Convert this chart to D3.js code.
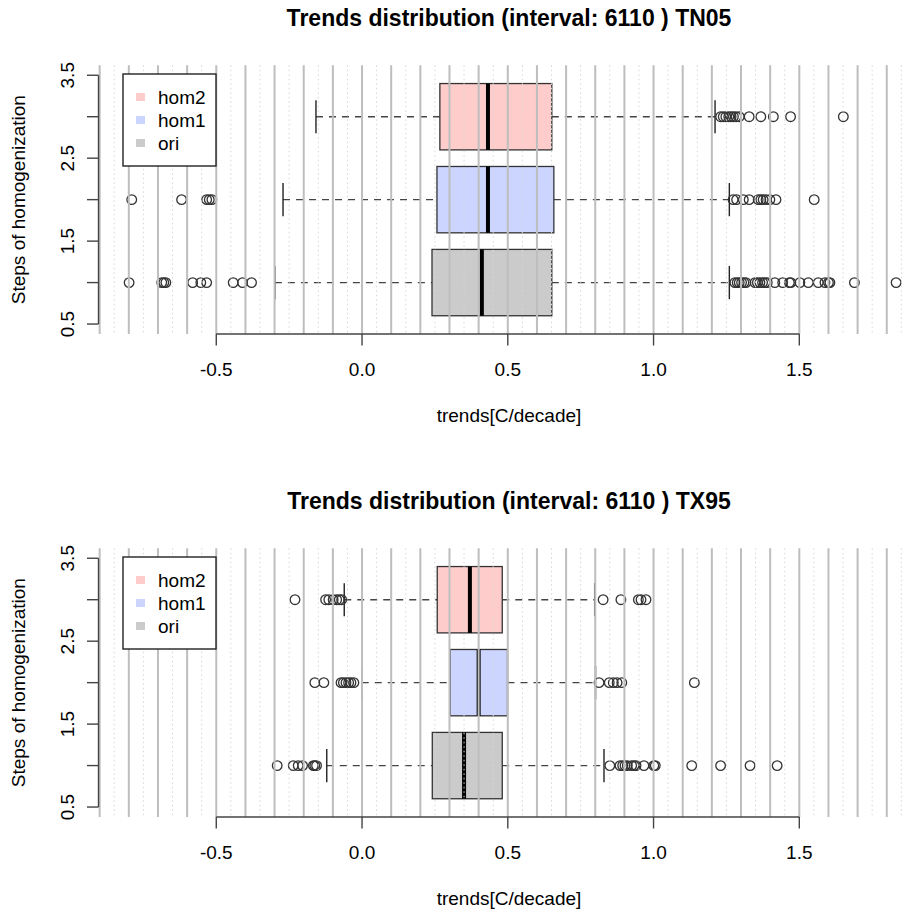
<!DOCTYPE html>
<html><head><meta charset="utf-8">
<script src="https://cdn.jsdelivr.net/npm/d3@7"></script>
<style>body{margin:0;background:#fff}svg{display:block}text{font-family:"Liberation Sans",Arial,Helvetica,sans-serif;fill:#000}</style>
</head><body><svg id="c" width="912" height="912"></svg>
<script>
// ---------------- data ----------------
const categories = ["ori", "hom1", "hom2"];          // y positions 1,2,3
const legendLabels = ["hom2", "hom1", "ori"];
const titles = ["Trends distribution (interval: 6110 ) TN05", "Trends distribution (interval: 6110 ) TX95"];
const xTitle = "trends[C/decade]";
const yTitle = "Steps of homogenization";
const xTickValues = [-0.5, 0, 0.5, 1, 1.5];
const xTickLabels = ["-0.5", "0.0", "0.5", "1.0", "1.5"];
const yTickValues = [0.5, 1, 1.5, 2, 2.5, 3, 3.5];
const yTickLabels = ["0.5", "", "1.5", "", "2.5", "", "3.5"];

// stats: [lower whisker, Q1, median, Q3, upper whisker]
const tn05OriStats  = [-0.299, 0.240, 0.411, 0.651, 1.260];
const tn05Hom1Stats = [-0.271, 0.257, 0.432, 0.658, 1.260];
const tn05Hom2Stats = [-0.158, 0.267, 0.432, 0.651, 1.211];
const tn05OriOut  = [-0.799, -0.687, -0.680, -0.673, -0.581, -0.553, -0.533, -0.442, -0.410, -0.379,
                     1.279, 1.287, 1.294, 1.302, 1.310, 1.317, 1.348, 1.356, 1.365, 1.374, 1.382, 1.390,
                     1.416, 1.443, 1.466, 1.471, 1.502, 1.531, 1.565, 1.588, 1.600, 1.605, 1.689, 1.832];
const tn05Hom1Out = [-0.790, -0.619, -0.533, -0.524, -0.515,
                     1.273, 1.285, 1.308, 1.328, 1.359, 1.368, 1.376, 1.386, 1.399, 1.420, 1.551];
const tn05Hom2Out = [1.230, 1.239, 1.248, 1.258, 1.266, 1.274, 1.283, 1.294, 1.328, 1.368, 1.411, 1.470, 1.651];

const tx95OriStats  = [-0.121, 0.241, 0.350, 0.481, 0.830];
const tx95Hom1Stats = [-0.001, 0.302, 0.400, 0.499, 0.801];
const tx95Hom2Stats = [-0.061, 0.258, 0.370, 0.481, 0.798];
const tx95OriOut  = [-0.291, -0.236, -0.219, -0.204, -0.167, -0.162, -0.156,
                     0.850, 0.885, 0.894, 0.902, 0.910, 0.925, 0.933, 0.940, 0.967, 1.001, 1.006,
                     1.131, 1.230, 1.331, 1.424];
const tx95Hom1Out = [-0.162, -0.131, -0.072, -0.064, -0.055, -0.046, -0.038, -0.028,
                     0.813, 0.848, 0.862, 0.875, 0.891, 1.140];
const tx95Hom2Out = [-0.230, -0.125, -0.114, -0.099, -0.087, -0.078, -0.070,
                     0.827, 0.888, 0.948, 0.957, 0.974];

const fillColors = {ori: "#CBCBCB", hom1: "#CCD5FF", hom2: "#FFCCCC"};

const panels = [
  {title: titles[0], dy: 0,
   groups: [{key: "ori", pos: 1, s: tn05OriStats, out: tn05OriOut},
            {key: "hom1", pos: 2, s: tn05Hom1Stats, out: tn05Hom1Out},
            {key: "hom2", pos: 3, s: tn05Hom2Stats, out: tn05Hom2Out}]},
  {title: titles[1], dy: 483,
   groups: [{key: "ori", pos: 1, s: tx95OriStats, out: tx95OriOut},
            {key: "hom1", pos: 2, s: tx95Hom1Stats, out: tx95Hom1Out},
            {key: "hom2", pos: 3, s: tx95Hom2Stats, out: tx95Hom2Out}]}
];

// ---------------- drawing ----------------
const svg = d3.select("#c");
const PL = 98.5, PR = 926.7;
const x = d3.scaleLinear().domain([-0.904, 1.937]).range([PL, PR]);
const gridMajor = d3.range(-9, 20).map(i => i / 10);
const gridMinor = d3.range(-9, 19).map(i => i / 10 + 0.05);

panels.forEach(p => {
  const top = 65.3 + p.dy, bottom = 334 + p.dy;
  const y = d3.scaleLinear().domain([0.38, 3.62]).range([bottom, top]);
  const g = svg.append("g");
  const bh = y(0) - y(0.4);   // half box height
  const sh = y(0) - y(0.2);   // half staple height

  p.groups.forEach(d => {
    const cy = y(d.pos);
    const [lw, q1, md, q3, uw] = d.s;
    // whiskers
    g.append("line").attr("x1", x(lw)).attr("x2", x(q1)).attr("y1", cy).attr("y2", cy)
      .attr("stroke", "#444").attr("stroke-width", 1.4).attr("stroke-dasharray", "7,6");
    g.append("line").attr("x1", x(q3)).attr("x2", x(uw)).attr("y1", cy).attr("y2", cy)
      .attr("stroke", "#444").attr("stroke-width", 1.4).attr("stroke-dasharray", "7,6");
    // staples
    [lw, uw].forEach(v => g.append("line").attr("x1", x(v)).attr("x2", x(v))
      .attr("y1", cy - sh).attr("y2", cy + sh).attr("stroke", "#222").attr("stroke-width", 1.4));
    // box
    g.append("rect").attr("x", x(q1)).attr("y", cy - bh).attr("width", x(q3) - x(q1)).attr("height", 2 * bh)
      .attr("fill", fillColors[d.key]).attr("stroke", "#333").attr("stroke-width", 1.3);
    // median
    g.append("line").attr("x1", x(md)).attr("x2", x(md)).attr("y1", cy - bh).attr("y2", cy + bh)
      .attr("stroke", "#000").attr("stroke-width", 4);
    // outliers
    g.selectAll(null).data(d.out).enter().append("circle")
      .attr("cx", v => x(v)).attr("cy", cy).attr("r", 4.8)
      .attr("fill", "none").attr("stroke", "#333").attr("stroke-width", 1.3);
  });

  // grid over everything (abline after boxplot)
  const gx = svg.append("g");
  gx.selectAll(null).data(gridMinor.filter(v => x(v) <= 912)).enter().append("line")
    .attr("x1", v => x(v)).attr("x2", v => x(v)).attr("y1", top).attr("y2", bottom)
    .attr("stroke", "#D6D6D6").attr("stroke-width", 1).attr("stroke-dasharray", "1.5,3");
  gx.selectAll(null).data(gridMajor.filter(v => x(v) <= 912)).enter().append("line")
    .attr("x1", v => x(v)).attr("x2", v => x(v)).attr("y1", top).attr("y2", bottom)
    .attr("stroke", "#BEBEBE").attr("stroke-width", 2);

  // x axis
  const ax = svg.append("g").attr("transform", `translate(0,${bottom})`);
  ax.append("line").attr("x1", x(xTickValues[0])).attr("x2", x(xTickValues[xTickValues.length - 1]))
    .attr("y1", 0).attr("y2", 0).attr("stroke", "#444").attr("stroke-width", 1.4);
  xTickValues.forEach((v, i) => {
    ax.append("line").attr("x1", x(v)).attr("x2", x(v)).attr("y1", 0).attr("y2", 11.5)
      .attr("stroke", "#444").attr("stroke-width", 1.4);
    ax.append("text").attr("x", x(v)).attr("y", 35).attr("dy", "0.35em")
      .attr("text-anchor", "middle").attr("font-size", 19).text(xTickLabels[i]);
  });
  svg.append("text").attr("x", 509).attr("y", bottom + 81).attr("dy", "0.35em")
    .attr("text-anchor", "middle").attr("font-size", 19).text(xTitle);

  // y axis
  const ay = svg.append("g");
  ay.append("line").attr("x1", PL).attr("x2", PL).attr("y1", y(0.5)).attr("y2", y(3.5))
    .attr("stroke", "#444").attr("stroke-width", 1.4);
  yTickValues.forEach((v, i) => {
    ay.append("line").attr("x1", PL).attr("x2", PL - 11.5).attr("y1", y(v)).attr("y2", y(v))
      .attr("stroke", "#444").attr("stroke-width", 1.4);
    if (yTickLabels[i]) {
      ay.append("text").attr("transform", `translate(${PL - 31},${y(v)}) rotate(-90)`)
        .attr("dy", "0.35em").attr("text-anchor", "middle").attr("font-size", 19).text(yTickLabels[i]);
    }
  });
  svg.append("text").attr("transform", `translate(18,${(top + bottom) / 2}) rotate(-90)`)
    .attr("dy", "0.35em").attr("text-anchor", "middle").attr("font-size", 19).text(yTitle);

  // title
  svg.append("text").attr("x", 509).attr("y", 18 + p.dy).attr("dy", "0.35em")
    .attr("text-anchor", "middle").attr("font-size", 23).attr("font-weight", "bold").text(p.title);

  // legend
  const lg = svg.append("g").attr("transform", `translate(123,${74 + p.dy})`);
  lg.append("rect").attr("x", 0).attr("y", 0).attr("width", 93).attr("height", 92)
    .attr("fill", "#fff").attr("stroke", "#222").attr("stroke-width", 1.4);
  legendLabels.forEach((k, i) => {
    const ly = 23 + i * 23;
    lg.append("rect").attr("x", 13).attr("y", ly - 4).attr("width", 9).attr("height", 8)
      .attr("fill", fillColors[k]);
    lg.append("text").attr("x", 35).attr("y", ly).attr("dy", "0.35em").attr("font-size", 19).text(k);
  });
});
</script></body></html>
